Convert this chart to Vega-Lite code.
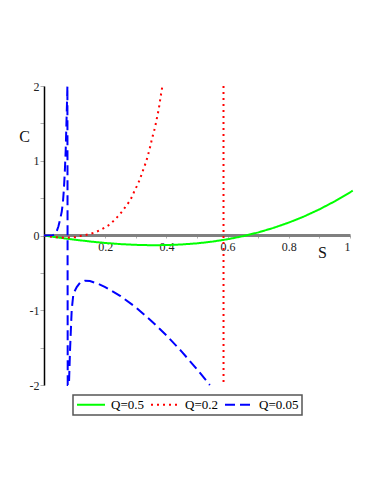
{
  "$schema": "https://vega.github.io/schema/vega-lite/v6.json",
  "autosize": {"type": "none"},
  "padding": {"left": 44, "top": 86, "right": 32, "bottom": 109},
  "width": 306,
  "height": 299,
  "background": "white",
  "config": {"view": {"stroke": null}},
  "data": {"values": [
    {"S": 0, "C": 0, "Q": "Q=0.5", "seg": "a"},
    {"S": 0.05, "C": -0.029, "Q": "Q=0.5", "seg": "a"},
    {"S": 0.1, "C": -0.056, "Q": "Q=0.5", "seg": "a"},
    {"S": 0.15, "C": -0.08, "Q": "Q=0.5", "seg": "a"},
    {"S": 0.2, "C": -0.1, "Q": "Q=0.5", "seg": "a"},
    {"S": 0.25, "C": -0.115, "Q": "Q=0.5", "seg": "a"},
    {"S": 0.3, "C": -0.125, "Q": "Q=0.5", "seg": "a"},
    {"S": 0.35, "C": -0.13, "Q": "Q=0.5", "seg": "a"},
    {"S": 0.4, "C": -0.128, "Q": "Q=0.5", "seg": "a"},
    {"S": 0.45, "C": -0.12, "Q": "Q=0.5", "seg": "a"},
    {"S": 0.5, "C": -0.105, "Q": "Q=0.5", "seg": "a"},
    {"S": 0.55, "C": -0.082, "Q": "Q=0.5", "seg": "a"},
    {"S": 0.6, "C": -0.05, "Q": "Q=0.5", "seg": "a"},
    {"S": 0.65, "C": -0.009, "Q": "Q=0.5", "seg": "a"},
    {"S": 0.7, "C": 0.041, "Q": "Q=0.5", "seg": "a"},
    {"S": 0.75, "C": 0.102, "Q": "Q=0.5", "seg": "a"},
    {"S": 0.8, "C": 0.173, "Q": "Q=0.5", "seg": "a"},
    {"S": 0.85, "C": 0.255, "Q": "Q=0.5", "seg": "a"},
    {"S": 0.9, "C": 0.35, "Q": "Q=0.5", "seg": "a"},
    {"S": 0.95, "C": 0.457, "Q": "Q=0.5", "seg": "a"},
    {"S": 1.0, "C": 0.577, "Q": "Q=0.5", "seg": "a"},
    {"S": 1.009, "C": 0.6, "Q": "Q=0.5", "seg": "a"},

    {"S": 0, "C": 0, "Q": "Q=0.2", "seg": "a"},
    {"S": 0.025, "C": -0.017, "Q": "Q=0.2", "seg": "a"},
    {"S": 0.05, "C": -0.027, "Q": "Q=0.2", "seg": "a"},
    {"S": 0.075, "C": -0.03, "Q": "Q=0.2", "seg": "a"},
    {"S": 0.1, "C": -0.022, "Q": "Q=0.2", "seg": "a"},
    {"S": 0.118, "C": -0.008, "Q": "Q=0.2", "seg": "a"},
    {"S": 0.13, "C": 0.0, "Q": "Q=0.2", "seg": "a"},
    {"S": 0.145, "C": 0.015, "Q": "Q=0.2", "seg": "a"},
    {"S": 0.164, "C": 0.036, "Q": "Q=0.2", "seg": "a"},
    {"S": 0.181, "C": 0.067, "Q": "Q=0.2", "seg": "a"},
    {"S": 0.199, "C": 0.107, "Q": "Q=0.2", "seg": "a"},
    {"S": 0.216, "C": 0.15, "Q": "Q=0.2", "seg": "a"},
    {"S": 0.231, "C": 0.21, "Q": "Q=0.2", "seg": "a"},
    {"S": 0.245, "C": 0.27, "Q": "Q=0.2", "seg": "a"},
    {"S": 0.257, "C": 0.33, "Q": "Q=0.2", "seg": "a"},
    {"S": 0.269, "C": 0.4, "Q": "Q=0.2", "seg": "a"},
    {"S": 0.28, "C": 0.46, "Q": "Q=0.2", "seg": "a"},
    {"S": 0.289, "C": 0.53, "Q": "Q=0.2", "seg": "a"},
    {"S": 0.297, "C": 0.61, "Q": "Q=0.2", "seg": "a"},
    {"S": 0.306, "C": 0.68, "Q": "Q=0.2", "seg": "a"},
    {"S": 0.313, "C": 0.75, "Q": "Q=0.2", "seg": "a"},
    {"S": 0.32, "C": 0.83, "Q": "Q=0.2", "seg": "a"},
    {"S": 0.327, "C": 0.91, "Q": "Q=0.2", "seg": "a"},
    {"S": 0.333, "C": 0.98, "Q": "Q=0.2", "seg": "a"},
    {"S": 0.339, "C": 1.06, "Q": "Q=0.2", "seg": "a"},
    {"S": 0.344, "C": 1.14, "Q": "Q=0.2", "seg": "a"},
    {"S": 0.349, "C": 1.22, "Q": "Q=0.2", "seg": "a"},
    {"S": 0.353, "C": 1.3, "Q": "Q=0.2", "seg": "a"},
    {"S": 0.358, "C": 1.37, "Q": "Q=0.2", "seg": "a"},
    {"S": 0.363, "C": 1.45, "Q": "Q=0.2", "seg": "a"},
    {"S": 0.367, "C": 1.53, "Q": "Q=0.2", "seg": "a"},
    {"S": 0.371, "C": 1.61, "Q": "Q=0.2", "seg": "a"},
    {"S": 0.375, "C": 1.69, "Q": "Q=0.2", "seg": "a"},
    {"S": 0.378, "C": 1.77, "Q": "Q=0.2", "seg": "a"},
    {"S": 0.381, "C": 1.85, "Q": "Q=0.2", "seg": "a"},
    {"S": 0.384, "C": 1.93, "Q": "Q=0.2", "seg": "a"},
    {"S": 0.387, "C": 2.0, "Q": "Q=0.2", "seg": "a"},
    {"S": 0.5866, "C": 2.0, "Q": "Q=0.2", "seg": "b"},
    {"S": 0.5867, "C": -2.0, "Q": "Q=0.2", "seg": "b"},

    {"S": 0, "C": 0, "Q": "Q=0.05", "seg": "a"},
    {"S": 0.03, "C": 0.005, "Q": "Q=0.05", "seg": "a"},
    {"S": 0.04, "C": 0.04, "Q": "Q=0.05", "seg": "a"},
    {"S": 0.047, "C": 0.12, "Q": "Q=0.05", "seg": "a"},
    {"S": 0.053, "C": 0.22, "Q": "Q=0.05", "seg": "a"},
    {"S": 0.058, "C": 0.32, "Q": "Q=0.05", "seg": "a"},
    {"S": 0.062, "C": 0.45, "Q": "Q=0.05", "seg": "a"},
    {"S": 0.065, "C": 0.62, "Q": "Q=0.05", "seg": "a"},
    {"S": 0.068, "C": 0.85, "Q": "Q=0.05", "seg": "a"},
    {"S": 0.071, "C": 1.15, "Q": "Q=0.05", "seg": "a"},
    {"S": 0.073, "C": 1.45, "Q": "Q=0.05", "seg": "a"},
    {"S": 0.075, "C": 1.75, "Q": "Q=0.05", "seg": "a"},
    {"S": 0.0765, "C": 2.0, "Q": "Q=0.05", "seg": "a"},
    {"S": 0.0775, "C": -2.0, "Q": "Q=0.05", "seg": "a"},
    {"S": 0.0815, "C": -2.0, "Q": "Q=0.05", "seg": "a"},
    {"S": 0.085, "C": -1.54, "Q": "Q=0.05", "seg": "a"},
    {"S": 0.0905, "C": -1.0, "Q": "Q=0.05", "seg": "a"},
    {"S": 0.096, "C": -0.78, "Q": "Q=0.05", "seg": "a"},
    {"S": 0.107, "C": -0.69, "Q": "Q=0.05", "seg": "a"},
    {"S": 0.118, "C": -0.63, "Q": "Q=0.05", "seg": "a"},
    {"S": 0.134, "C": -0.605, "Q": "Q=0.05", "seg": "a"},
    {"S": 0.15, "C": -0.61, "Q": "Q=0.05", "seg": "a"},
    {"S": 0.175, "C": -0.643, "Q": "Q=0.05", "seg": "a"},
    {"S": 0.2, "C": -0.69, "Q": "Q=0.05", "seg": "a"},
    {"S": 0.25, "C": -0.81, "Q": "Q=0.05", "seg": "a"},
    {"S": 0.3, "C": -0.96, "Q": "Q=0.05", "seg": "a"},
    {"S": 0.35, "C": -1.14, "Q": "Q=0.05", "seg": "a"},
    {"S": 0.4, "C": -1.335, "Q": "Q=0.05", "seg": "a"},
    {"S": 0.45, "C": -1.553, "Q": "Q=0.05", "seg": "a"},
    {"S": 0.5, "C": -1.79, "Q": "Q=0.05", "seg": "a"},
    {"S": 0.542, "C": -2.0, "Q": "Q=0.05", "seg": "a"}
  ]},
  "mark": {"type": "line", "strokeWidth": 2, "clip": false, "strokeCap": "butt"},
  "encoding": {
    "x": {
      "field": "S", "type": "quantitative",
      "scale": {"domain": [0, 1], "nice": false, "zero": false},
      "axis": {
        "orient": "bottom", "offset": -150,
        "values": [0.1, 0.2, 0.3, 0.4, 0.5, 0.6, 0.7, 0.8, 0.9, 1.0],
        "labelExpr": "round(datum.value*10) % 2 == 0 ? '' + round(datum.value*10)/10 : ''",
        "domainColor": "#808080", "domainWidth": 3,
        "tickColor": "#b0b0b0", "tickSize": 3, "tickWidth": 1,
        "labelPadding": 3, "labelFont": "Liberation Serif", "labelFontSize": 12, "labelColor": "#222",
        "grid": false,
        "title": "S", "titleFont": "Liberation Serif", "titleFontSize": 16, "titleFontWeight": "normal",
        "titleColor": "#111", "titleX": 278, "titleY": 17, "titleBaseline": "middle", "titleAlign": "center", "titleAngle": 0
      }
    },
    "y": {
      "field": "C", "type": "quantitative",
      "scale": {"domain": [-2, 2], "nice": false, "zero": false},
      "axis": {
        "values": [-2, -1.5, -1, -0.5, 0, 0.5, 1, 1.5, 2],
        "labelExpr": "datum.value % 1 == 0 ? '' + datum.value : ''",
        "domainColor": "#000", "domainWidth": 1.5,
        "tickColor": "#b0b0b0", "tickSize": 4, "tickWidth": 1,
        "labelPadding": 1, "labelFont": "Liberation Serif", "labelFontSize": 12, "labelColor": "#222",
        "grid": false,
        "title": "C", "titleFont": "Liberation Serif", "titleFontSize": 16, "titleFontWeight": "normal",
        "titleColor": "#111", "titleX": -20, "titleY": 50, "titleBaseline": "middle", "titleAlign": "center", "titleAngle": 0
      }
    },
    "detail": {"field": "seg"},
    "color": {
      "field": "Q", "type": "nominal",
      "scale": {"domain": ["Q=0.5", "Q=0.2", "Q=0.05"], "range": ["#00ff00", "#ff0000", "#0000ff"]},
      "legend": {
        "orient": "none", "legendX": 29, "legendY": 309, "direction": "horizontal",
        "title": null, "symbolType": "stroke", "symbolSize": 784, "symbolStrokeWidth": 2,
        "clipHeight": 13, "labelFont": "Liberation Serif", "labelFontSize": 13, "labelColor": "#000",
        "labelOffset": 5, "columnPadding": 6, "padding": 3,
        "strokeColor": "#555", "fillColor": "white",
        "encode": {"legend": {"update": {"strokeWidth": {"value": 1.5}}}}
      }
    },
    "strokeDash": {
      "field": "Q", "type": "nominal",
      "scale": {"domain": ["Q=0.5", "Q=0.2", "Q=0.05"], "range": [[1, 0], [2, 4], [10, 5]]},
      "legend": null
    }
  }
}
